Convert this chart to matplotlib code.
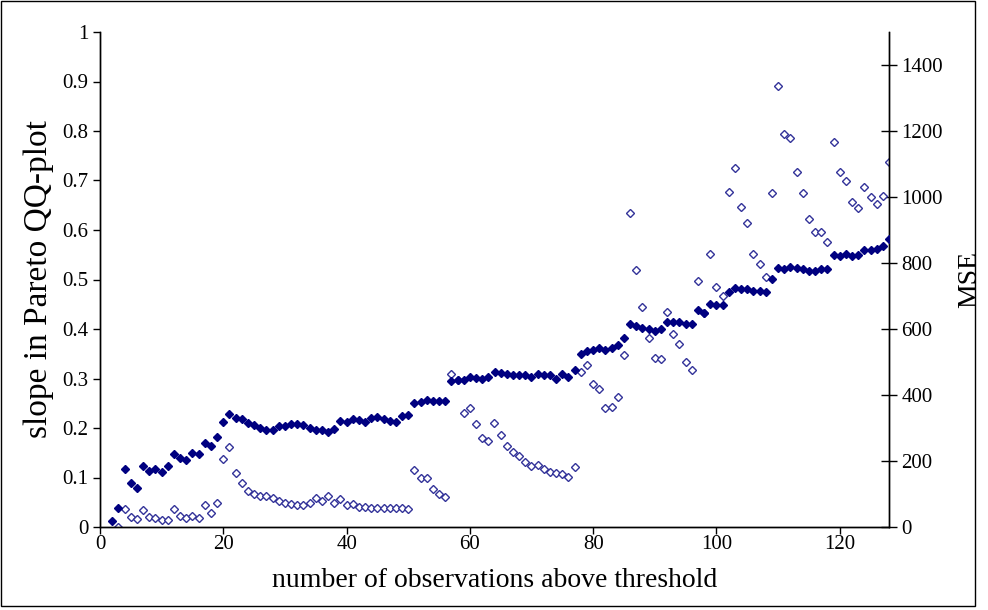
import numpy as np
import matplotlib
matplotlib.use('Agg')
import matplotlib.pyplot as plt
from matplotlib.patches import Rectangle

plt.rcParams['font.family'] = ['Liberation Serif', 'DejaVu Serif']

# slope in Pareto QQ-plot, k = 2..128
slope_k = np.arange(2, 129)
slope = [0.013, 0.038, 0.117, 0.088, 0.078, 0.123, 0.114, 0.117, 0.112, 0.123,
         0.148, 0.140, 0.135, 0.149, 0.148, 0.170, 0.164, 0.181, 0.213, 0.228,
         0.221, 0.218, 0.210, 0.207, 0.201, 0.196, 0.196, 0.205, 0.205, 0.209,
         0.209, 0.206, 0.201, 0.196, 0.196, 0.191, 0.197, 0.214, 0.213, 0.218,
         0.216, 0.213, 0.221, 0.223, 0.218, 0.214, 0.213, 0.224, 0.226, 0.251,
         0.253, 0.257, 0.255, 0.255, 0.255, 0.294, 0.297, 0.297, 0.304, 0.302,
         0.300, 0.304, 0.314, 0.312, 0.309, 0.308, 0.308, 0.307, 0.304, 0.309,
         0.308, 0.307, 0.300, 0.309, 0.304, 0.317, 0.349, 0.356, 0.358, 0.361,
         0.358, 0.361, 0.367, 0.382, 0.410, 0.407, 0.403, 0.399, 0.396, 0.399,
         0.415, 0.414, 0.414, 0.410, 0.410, 0.438, 0.433, 0.451, 0.448, 0.449,
         0.475, 0.483, 0.481, 0.481, 0.477, 0.477, 0.475, 0.501, 0.524, 0.521,
         0.526, 0.523, 0.521, 0.517, 0.517, 0.521, 0.521, 0.549, 0.548, 0.551,
         0.548, 0.549, 0.560, 0.560, 0.561, 0.568, 0.582]

# MSE, k = 3..128
mse_k = np.arange(3, 129)
mse = [1, 55, 29, 23, 52, 29, 26, 21, 21, 54,
       33, 28, 33, 26, 67, 43, 72, 206, 242, 163,
       132, 110, 99, 95, 93, 87, 79, 74, 70, 67,
       67, 74, 87, 79, 94, 74, 84, 67, 70, 62,
       62, 58, 58, 57, 57, 58, 57, 54, 173, 148,
       148, 114, 100, 90, 463, 445, 346, 361, 312, 269,
       261, 316, 278, 246, 227, 215, 198, 186, 188, 176,
       168, 163, 160, 152, 181, 471, 491, 433, 418, 361,
       365, 393, 521, 952, 779, 667, 574, 513, 509, 651,
       584, 554, 500, 475, 746, 649, 827, 726, 700, 1016,
       1089, 971, 922, 828, 797, 757, 1013, 1337, 1191, 1178,
       1077, 1011, 934, 895, 895, 863, 1167, 1077, 1049, 984,
       967, 1031, 1001, 978, 1004, 1107]

fig = plt.figure(figsize=(9.88, 6.10), dpi=100)
ax = fig.add_axes([100/988, 1-527/610, 789/988, 495/610])
ax2 = ax.twinx()

ax.plot(slope_k, slope, linestyle='none', marker='D', markersize=4.2,
        color='#000080', markeredgecolor='#000080', zorder=3)
ax2.plot(mse_k, mse, linestyle='none', marker='D', markersize=3.6,
         markerfacecolor='white', markeredgecolor='#333399', markeredgewidth=1.0)
ax.set_zorder(ax2.get_zorder() + 1)
ax.patch.set_visible(False)

ax.set_xlim(0, 128)
ax.set_ylim(0, 1)
ax2.set_ylim(0, 1500)
ax.set_xticks(np.arange(0, 121, 20))
ax.set_yticks(np.arange(0, 1.01, 0.1))
ax.set_yticklabels(['0', '0.1', '0.2', '0.3', '0.4', '0.5', '0.6', '0.7', '0.8', '0.9', '1'])
ax2.set_yticks(np.arange(0, 1401, 200))

for a in (ax, ax2):
    a.spines['top'].set_visible(False)
    for s in a.spines.values():
        s.set_linewidth(1.0)
ax.tick_params(axis='both', direction='out', length=5, width=1, labelsize=15)
ax.tick_params(axis='x', pad=1)
ax2.tick_params(axis='y', direction='inout', length=12, width=1, labelsize=15, pad=3)

ax.set_xlabel('number of observations above threshold', fontsize=20, labelpad=10)
ax.set_ylabel('slope in Pareto QQ-plot', fontsize=24, labelpad=6)
ax2.set_ylabel('MSE', fontsize=20, labelpad=10)

fig.patches.append(Rectangle((1/988, 4/610), 974/988, 605/610, transform=fig.transFigure,
                             fill=False, edgecolor='black', linewidth=1.0))

fig.savefig('out.png', dpi=100)
